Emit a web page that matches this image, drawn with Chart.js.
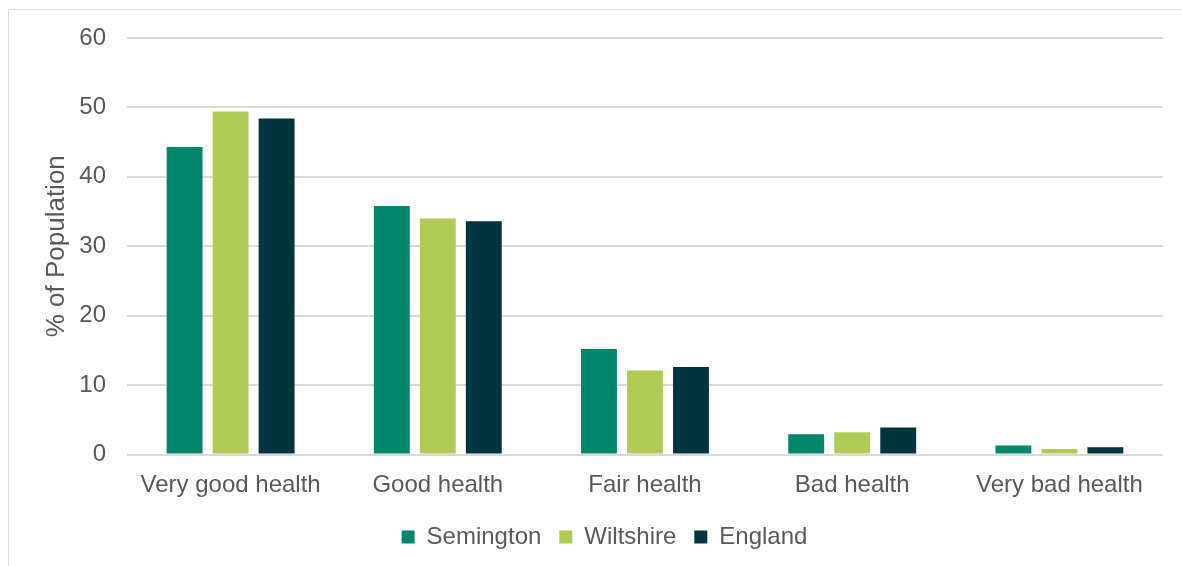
<!DOCTYPE html>
<html>
<head>
<meta charset="utf-8">
<script src="https://cdn.jsdelivr.net/npm/chart.js@4/dist/chart.umd.min.js"></script>
<style>
  html, body { margin: 0; padding: 0; background: #fff; overflow: hidden; }
  .frame {
    position: absolute; left: 8px; top: 9px;
    width: 1300px; height: 700px;
    border: 1px solid #d9d9d9;
  }
  #chart { position: absolute; left: 0; top: 0; }
</style>
</head>
<body>
<div class="frame"></div>
<canvas id="chart" width="1182" height="566"></canvas>
<script>
// Categorías de salud y porcentaje de población por zona
const categories = ['Very good health', 'Good health', 'Fair health', 'Bad health', 'Very bad health'];
const semington = [44.3, 35.8, 15.2, 2.9, 1.3];
const wiltshire = [49.4, 34.0, 12.1, 3.2, 0.8];
const england = [48.4, 33.6, 12.6, 3.9, 1.05];
const yTicks = [0, 10, 20, 30, 40, 50, 60];

const FONT = '"Liberation Sans", Arial, sans-serif';
const TEXT = '#595959';

const makeSet = (label, data, color) => ({
  label,
  data,
  backgroundColor: color,
  borderWidth: 0,
  categoryPercentage: 0.666,
  barPercentage: 0.78
});

// Desplaza la leyenda para centrarla bajo el marco
const legendShift = {
  id: 'legendShift',
  afterLayout(chart) {
    const lg = chart.legend;
    if (lg) {
      lg.left += 23;
      lg.right += 23;
    }
  }
};

const ctx = document.getElementById('chart').getContext('2d');
new Chart(ctx, {
  type: 'bar',
  data: {
    labels: categories,
    datasets: [
      makeSet('Semington', semington, '#00866b'),
      makeSet('Wiltshire', wiltshire, '#b0cb55'),
      makeSet('England', england, '#003540')
    ]
  },
  plugins: [legendShift],
  options: {
    responsive: false,
    animation: false,
    layout: { padding: { left: 0, right: 19, top: 38, bottom: 7 } },
    plugins: {
      tooltip: { enabled: false },
      legend: {
        position: 'bottom',
        labels: {
          boxWidth: 13,
          boxHeight: 13,
          padding: 18,
          color: TEXT,
          font: { family: FONT, size: 24 }
        }
      }
    },
    scales: {
      y: {
        min: 0,
        max: 60,
        afterFit: (scale) => { scale.width = 127; },
        afterBuildTicks: (scale) => { scale.ticks = yTicks.map(v => ({ value: v })); },
        grid: { color: '#d9d9d9', lineWidth: 2, drawTicks: false },
        border: { display: false },
        ticks: { padding: 21, color: TEXT, font: { family: FONT, size: 24 } },
        title: {
          display: true,
          text: '% of Population',
          color: TEXT,
          padding: { top: 41, bottom: 0 },
          font: { family: FONT, size: 26 }
        }
      },
      x: {
        afterFit: (scale) => { scale.height = 52.5; },
        grid: { display: false, drawTicks: false },
        border: { display: false },
        ticks: { padding: 16, color: TEXT, maxRotation: 0, autoSkip: false, font: { family: FONT, size: 24 } }
      }
    }
  }
});
</script>
</body>
</html>
